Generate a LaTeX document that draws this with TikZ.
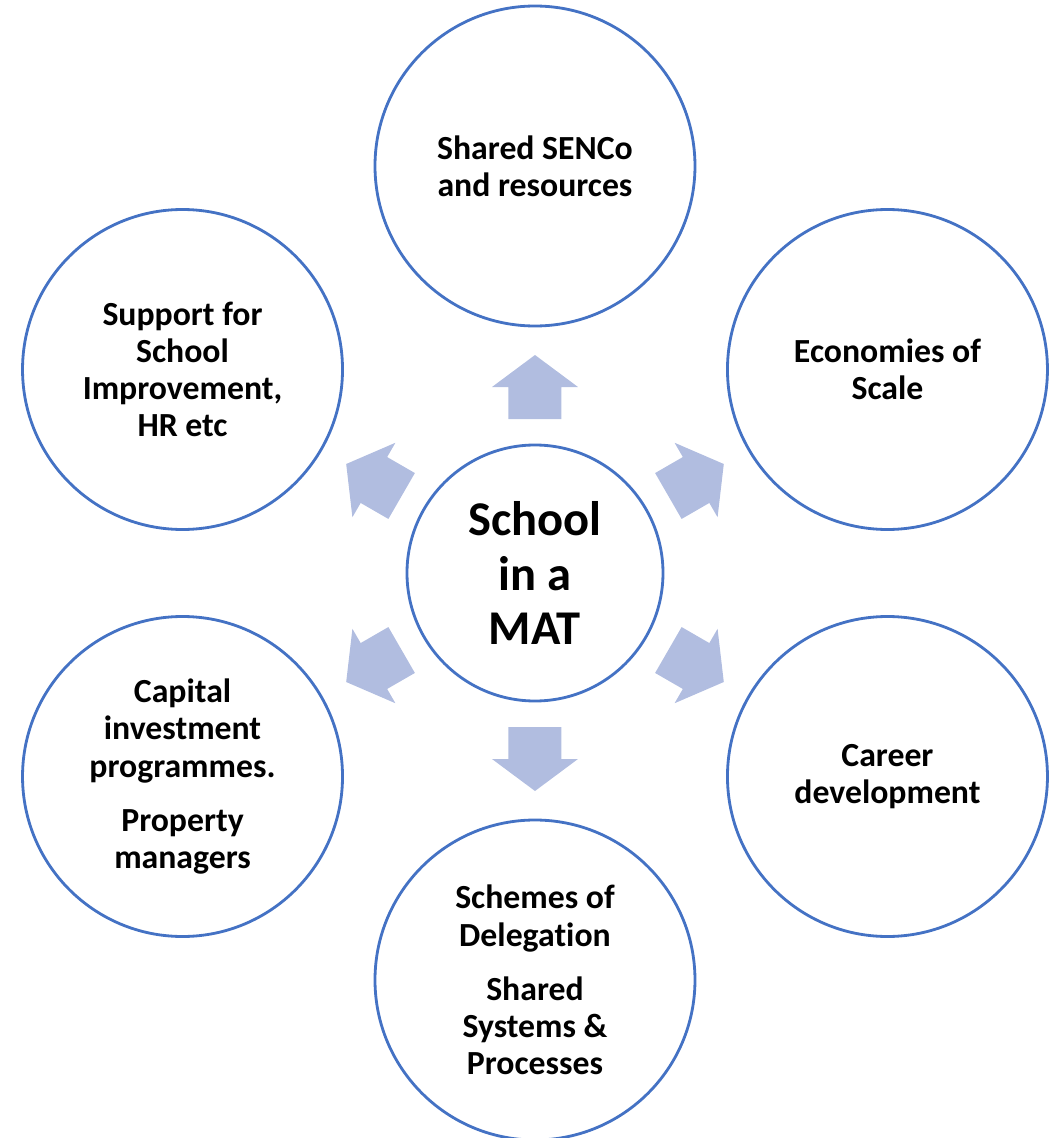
\documentclass[tikz,border=0pt]{standalone}
\usepackage{fontspec}
\setmainfont{Carlito}[Ligatures=NoCommon]
\usepackage{tikz}
\usetikzlibrary{calc}
\definecolor{ringblue}{HTML}{4472C4}
\definecolor{arrowblue}{HTML}{B1BDE0}
\newcommand{\myfontouter}{\fontsize{24}{26.5}\selectfont\bfseries}
\newcommand{\myfonthub}{\fontsize{34.5}{38.5}\selectfont\bfseries}

\begin{document}
\begin{tikzpicture}[
	ring/.style={circle, draw=ringblue, line width=2pt, fill=white, minimum size=8cm, inner sep=0pt, align=center, font=\myfontouter},
	hub/.style={ring, minimum size=6.4cm, font=\myfonthub},
	blockarrow/.style={fill=arrowblue, draw=none}
	]
	%Page size
	\useasboundingbox (-13.375,-14.125) rectangle (13.025,14.325);
	%Block arrows pointing outwards from the hub
	\foreach \a in {90,30,-30,-90,-150,150} {
		\fill[blockarrow, rotate=\a] (3.85,-0.6625) -- (4.65,-0.6625) -- (4.65,-1.075) -- (5.45,0)
			-- (4.65,1.075) -- (4.65,0.6625) -- (3.85,0.6625) -- cycle;
	}
	%The hub
	\node [hub] (mat) at (0,0) {School\\in a\\MAT};
	%Outer circles
	\node [ring] (senco) at (90:10.175) {Shared SENCo\\and resources};
	\node [ring] (scale) at (30:10.175) {Economies of\\Scale};
	\node [ring] (career) at (-30:10.175) {Career\\development};
	\node [ring] (delegation) at (-90:10.175) {Schemes of\\Delegation\\[12pt]Shared\\Systems \&\\Processes};
	\node [ring] (capital) at (-150:10.175) {Capital\\investment\\programmes.\\[12pt]Property\\managers};
	\node [ring] (support) at (150:10.175) {Support for\\School\\Improvement,\\HR etc};
\end{tikzpicture}
\end{document}
